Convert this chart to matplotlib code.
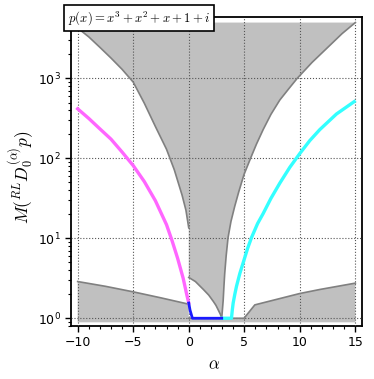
import numpy as np
import matplotlib
matplotlib.use('Agg')
import matplotlib.pyplot as plt

plt.rcParams['mathtext.fontset'] = 'cm'

# values (x = alpha, y = M value, log scale)
magenta_x = [-10.0, -9.0, -8.0, -7.0, -6.0, -5.0, -4.0, -3.0, -2.0, -1.5, -1.0, -0.5, -0.2, 0.0]
magenta_y = [417, 316, 234, 174, 120, 81.3, 51.3, 29.5, 14.8, 9.33, 5.62, 3.16, 2.04, 1.55]

blue_x = [0.0, 0.12, 0.33, 2.97]
blue_y = [1.55, 1.26, 1.0, 1.0]

cyan_x = [2.97, 3.85, 3.92, 4.0, 4.15, 4.3, 4.6, 4.98, 5.3, 5.65, 6.2, 6.7, 7.4, 8.2,
          9.1, 10.0, 10.9, 11.8, 13.3, 14.9]
cyan_y = [1.0, 1.0, 1.26, 1.55, 2.0, 2.51, 3.63, 5.37, 7.48, 10.2, 15.3, 20.4, 31.6, 49,
          77.3, 115, 167, 229, 359, 513]

# boundaries of the shaded regions
upper_left_x = [-10.0, -9.0, -8.0, -7.0, -6.0, -5.0, -4.0, -3.0, -2.0, -1.3, -0.6, -0.25, 0.0]
upper_left_y = [4270, 3310, 2450, 1800, 1300, 900, 490, 250, 130, 72, 34.7, 22.4, 13.5]

middle_x = [0.0, 0.6, 1.32, 1.8, 2.22, 2.45, 2.67, 2.85, 2.97]
middle_y = [3.24, 2.88, 2.29, 1.95, 1.62, 1.45, 1.26, 1.12, 1.0]

upper_right_x = [2.97, 3.1, 3.17, 3.24, 3.37, 3.54, 3.8, 4.14, 4.5, 4.98, 5.65, 6.1, 6.7,
                 7.4, 8.2, 9.0, 9.76, 11.1, 12.6, 13.8, 15.0]
upper_right_y = [1.0, 1.66, 2.51, 3.63, 6.03, 10.2, 16.2, 25.1, 38, 63, 107, 151, 229,
                 355, 537, 741, 1000, 1585, 2510, 3630, 5000]

lower_left_x = [-10.0, -7.5, -5.0, -2.5, 0.0]
lower_left_y = [2.88, 2.51, 2.14, 1.80, 1.50]

lower_right_x = [0.0, 4.98, 5.95, 10.0, 11.8, 15.0]
lower_right_y = [1.0, 1.0, 1.47, 2.04, 2.29, 2.75]

region_top = 5000
region_bottom = 0.89

label_text = r'$p(x) = x^3 + x^2 + x + 1 + i$'

fill_col = '#c0c0c0'
edge_col = '#808080'

fig = plt.figure(figsize=(3.74, 3.79), dpi=100)
ax = fig.add_axes([71/374, 53/379, 291/374, 309/379])
ax.set_yscale('log')

# upper shaded region
px = upper_left_x + middle_x + upper_right_x + [15.0, -10.0]
py = upper_left_y + middle_y + upper_right_y + [region_top, region_top]
ax.fill(px, py, color=fill_col, lw=0, zorder=1)

# lower shaded region
px = [-10.0] + lower_left_x + lower_right_x + [15.0]
py = [region_bottom] + lower_left_y + lower_right_y + [region_bottom]
ax.fill(px, py, color=fill_col, lw=0, zorder=1)

for xs, ys in [(upper_left_x, upper_left_y), (middle_x, middle_y),
               (upper_right_x, upper_right_y), (lower_left_x, lower_left_y),
               (lower_right_x, lower_right_y)]:
    ax.plot(xs, ys, color=edge_col, lw=1.2, zorder=3)

ax.plot(magenta_x, magenta_y, color='#ff66ff', lw=2.4, zorder=4)
ax.plot(cyan_x, cyan_y, color='#33ffff', lw=2.4, zorder=4)
ax.plot(blue_x, blue_y, color='#1a1aff', lw=2.0, zorder=5)

ax.set_xlim(-10.6, 15.6)
ax.set_ylim(0.80, 5870)
ax.set_xticks([-10, -5, 0, 5, 10, 15])
ax.xaxis.set_minor_locator(matplotlib.ticker.MultipleLocator(1))
ax.grid(True, which='major', color='#555555', linestyle=':', lw=0.8, zorder=2)
ax.set_axisbelow(False)
ax.tick_params(which='major', direction='out', length=4, width=1, labelsize=9)
ax.tick_params(which='minor', direction='out', length=2.5, width=0.8)
for s in ax.spines.values():
    s.set_linewidth(1.3)

ax.set_xlabel(r'$\alpha$', fontsize=12)
ax.set_ylabel(r'$M({}^{RL}D_0^{(\alpha)}p)$', fontsize=12.5)
ax.xaxis.set_label_coords(0.49, -0.095)
ax.yaxis.set_label_coords(-0.12, 0.48)

fig.text(139/374, 1 - 18/379, label_text, fontsize=9.2, ha='center', va='center',
         bbox=dict(boxstyle='square,pad=0.3', facecolor='white', edgecolor='black', lw=1.2))

fig.savefig('out.png', dpi=100)
